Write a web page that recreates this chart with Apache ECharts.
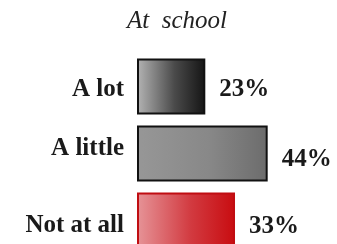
<!DOCTYPE html>
<html>
<head>
<meta charset="utf-8">
<script src="https://cdn.jsdelivr.net/npm/echarts@6/dist/echarts.min.js"></script>
<style>
  html, body { margin: 0; padding: 0; background: #fff; }
  #chart { width: 337px; height: 244px; }
</style>
</head>
<body>
<div id="chart"></div>
<script>
// data
var categories = ['A lot', 'A little', 'Not at all']
var values = [23, 44, 33]
var titleText = 'At  school'

// fill (left, middle, right) / border per bar
var fills = [
  ['#b4b4b4', '#4a4a4a', '#141414'],
  ['#979797', '#888888', '#6c6c6c'],
  ['#e69498', '#d23a40', '#c80c10']
]
var borders = ['#111111', '#111111', '#c00d12']
// small nudges so the text sits where the scan has it
var valueShift = [3, 6, 6]
var catShift = ['lotTxt', 'littleTxt', 'notTxt']

var chart = echarts.init(document.getElementById('chart'))

chart.setOption({
  animation: false,
  title: {
    text: titleText,
    left: 122,
    top: 4,
    textStyle: {
      fontFamily: 'Liberation Serif',
      fontStyle: 'italic',
      fontWeight: 'normal',
      fontSize: 25,
      color: '#222'
    }
  },
  grid: {
    left: 137,
    top: 53,
    width: 297,
    height: 201,
    outerBoundsMode: 'none'
  },
  xAxis: {
    type: 'value',
    min: 0,
    max: 100,
    show: false
  },
  yAxis: {
    type: 'category',
    inverse: true,
    data: categories,
    axisLine: { show: false },
    axisTick: { show: false },
    axisLabel: {
      margin: 13,
      formatter: function(value, i) {
        return '{' + catShift[i] + '|' + value + '}'
      },
      rich: {
        lotTxt: { fontFamily: 'Liberation Serif', fontWeight: 'bold', fontSize: 25, color: '#1a1a1a', padding: [7, 0, 0, 0] },
        littleTxt: { fontFamily: 'Liberation Serif', fontWeight: 'bold', fontSize: 25, color: '#1a1a1a', padding: [0, 0, 10, 0] },
        notTxt: { fontFamily: 'Liberation Serif', fontWeight: 'bold', fontSize: 25, color: '#1a1a1a', padding: [11, 0, 0, 0] }
      }
    }
  },
  series: [
    {
      type: 'bar',
      barWidth: 56,
      data: values.map(function(v, i) {
        return {
          value: v,
          itemStyle: {
            color: new echarts.graphic.LinearGradient(0, 0, 1, 0, [
              { offset: 0, color: fills[i][0] },
              { offset: 0.55, color: fills[i][1] },
              { offset: 1, color: fills[i][2] }
            ]),
            borderColor: borders[i],
            borderWidth: 2
          },
          label: {
            offset: [0, valueShift[i]]
          }
        }
      }),
      label: {
        show: true,
        position: 'right',
        distance: 14,
        formatter: '{c}%',
        fontFamily: 'Liberation Serif',
        fontWeight: 'bold',
        fontSize: 25,
        color: '#1a1a1a'
      }
    }
  ]
})
</script>
</body>
</html>
